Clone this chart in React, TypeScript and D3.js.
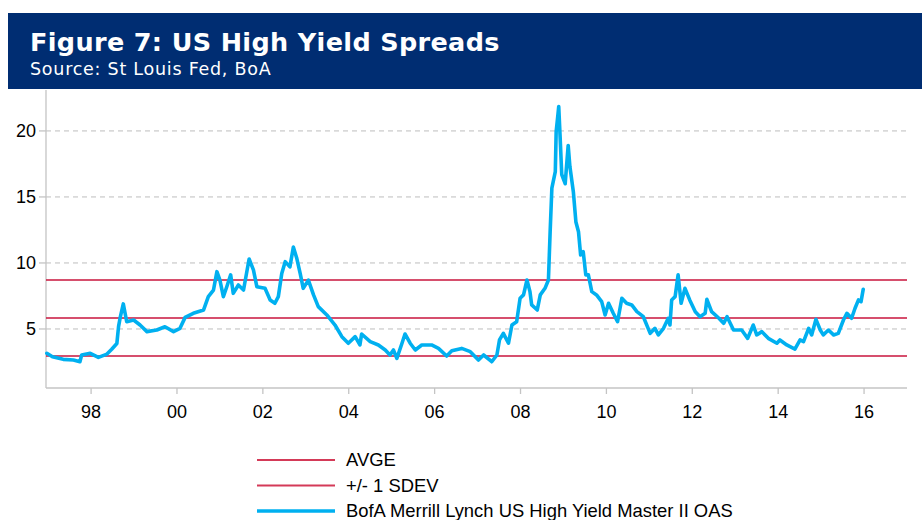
import React from "react";
import * as d3 from "d3";

const title = "Figure 7: US High Yield Spreads";
const subtitle = "Source: St Louis Fed, BoA";

// decimal year, OAS spread (%)
const dates = [
  1996.97, 1997.1, 1997.35, 1997.59, 1997.74, 1997.78, 1997.98, 1998.17, 1998.37, 1998.48,
  1998.6, 1998.64, 1998.68, 1998.75, 1998.83, 1998.99, 1999.14, 1999.3, 1999.53, 1999.72,
  1999.92, 2000.07, 2000.19, 2000.38, 2000.62, 2000.73, 2000.85, 2000.93, 2001.0, 2001.08,
  2001.16, 2001.25, 2001.31, 2001.43, 2001.55, 2001.68, 2001.78, 2001.86, 2002.05, 2002.17,
  2002.28, 2002.36, 2002.44, 2002.52, 2002.63, 2002.71, 2002.79, 2002.87, 2002.94, 2003.06,
  2003.18, 2003.29, 2003.49, 2003.68, 2003.84, 2003.99, 2004.15, 2004.26, 2004.3, 2004.5,
  2004.69, 2004.85, 2004.96, 2005.04, 2005.12, 2005.24, 2005.31, 2005.43, 2005.55, 2005.7,
  2005.93, 2006.09, 2006.28, 2006.4, 2006.63, 2006.83, 2007.02, 2007.14, 2007.33, 2007.45,
  2007.51, 2007.6, 2007.72, 2007.8, 2007.91, 2007.99, 2008.07, 2008.15, 2008.22, 2008.26,
  2008.39, 2008.46, 2008.57, 2008.65, 2008.69, 2008.73, 2008.81, 2008.83, 2008.87, 2008.89,
  2008.92, 2008.96, 2009.04, 2009.11, 2009.15, 2009.23, 2009.29, 2009.35, 2009.4, 2009.46,
  2009.52, 2009.58, 2009.66, 2009.77, 2009.89, 2009.97, 2010.05, 2010.16, 2010.26, 2010.36,
  2010.47, 2010.59, 2010.71, 2010.86, 2011.02, 2011.13, 2011.21, 2011.33, 2011.44, 2011.48,
  2011.52, 2011.6, 2011.67, 2011.74, 2011.83, 2011.94, 2012.07, 2012.18, 2012.3, 2012.34,
  2012.45, 2012.62, 2012.73, 2012.81, 2012.96, 2013.15, 2013.29, 2013.42, 2013.5, 2013.62,
  2013.77, 2013.97, 2014.04, 2014.2, 2014.39, 2014.51, 2014.59, 2014.71, 2014.78, 2014.88,
  2014.98, 2015.05, 2015.17, 2015.29, 2015.4, 2015.52, 2015.6, 2015.71, 2015.79, 2015.87,
  2015.93, 2015.98,
];
const spreads = [
  3.16, 2.9, 2.7, 2.65, 2.52, 3.03, 3.16, 2.85, 3.1, 3.46,
  3.9, 5.2, 5.9, 6.9, 5.55, 5.68, 5.3, 4.8, 4.92, 5.17,
  4.8, 5.05, 5.88, 6.19, 6.44, 7.45, 7.95, 9.34, 8.7, 7.45,
  8.2, 9.1, 7.7, 8.33, 7.95, 10.3, 9.47, 8.2, 8.08, 7.2,
  6.95, 7.45, 9.2, 10.1, 9.7, 11.2, 10.35, 9.2, 8.08, 8.7,
  7.58, 6.69, 6.06, 5.3, 4.42, 3.92, 4.42, 3.79, 4.62, 4.04,
  3.79, 3.41, 3.03, 3.41, 2.78, 3.92, 4.62, 3.92, 3.41, 3.79,
  3.79, 3.53, 2.95, 3.35, 3.53, 3.28, 2.65, 3.03, 2.52, 3.03,
  4.17, 4.67, 3.92, 5.3, 5.55, 7.33, 7.58, 8.71, 7.83, 6.82,
  6.44, 7.58, 8.08, 8.71, 12.37, 15.66, 16.92, 19.95, 21.2, 21.85,
  19.7, 16.7, 16.0, 18.9, 17.3, 15.4, 13.1, 12.37, 10.6, 10.86,
  9.1, 9.1, 7.83, 7.58, 7.07, 6.06, 6.95, 6.19, 5.55, 7.33,
  6.95, 6.82, 6.31, 5.93, 4.67, 5.05, 4.55, 5.05, 5.81, 5.3,
  7.2, 7.45, 9.1, 6.95, 8.08, 7.2, 6.31, 5.93, 6.19, 7.25,
  6.31, 5.81, 5.43, 5.93, 4.92, 4.92, 4.29, 5.3, 4.55, 4.8,
  4.29, 3.92, 4.17, 3.79, 3.48, 4.17, 4.04, 5.05, 4.55, 5.73,
  4.92, 4.55, 4.92, 4.55, 4.67, 5.68, 6.19, 5.81, 6.57, 7.2,
  7.07, 8.0,
];

const average = 5.83;
const stdev = 2.88;
const refLevels = [average + stdev, average, average - stdev];

const yTicks = [5, 10, 15, 20];
const xTicks = [1998, 2000, 2002, 2004, 2006, 2008, 2010, 2012, 2014, 2016];
const xTickLabels = ["98", "00", "02", "04", "06", "08", "10", "12", "14", "16"];

const legendItems = [
  { label: "AVGE", kind: "avg" },
  { label: "+/- 1 SDEV", kind: "sd" },
  { label: "BofA Merrill Lynch US High Yield Master II OAS", kind: "oas" },
];

const W = 922;
const H = 520;
const plot = { left: 46, right: 907, top: 90, bottom: 388 };
const BLUE = "#00b0f0";
const RED = "#c8143c";
const AXIS = "#c4c4c4";

export default function App() {
  const x = d3.scaleLinear().domain([1996.95, 2017.0]).range([plot.left, plot.right]);
  const y = d3.scaleLinear().domain([0.53, 23.1]).range([plot.bottom, plot.top]);

  const pts: [number, number][] = dates.map((d, i) => [d, spreads[i]]);
  const line = d3
    .line<[number, number]>()
    .x((d) => x(d[0]))
    .y((d) => y(d[1]));

  const font = "'Liberation Sans', Arial, sans-serif";

  return (
    <svg
      width={W}
      height={H}
      style={{ position: "absolute", left: 0, top: 0, background: "#fff" }}
    >
      <rect x={0} y={0} width={W} height={H} fill="#fff" />
      {/* header */}
      <rect x={8} y={13} width={W - 8} height={76} fill="#002d72" />
      <text
        x={30}
        y={51}
        fill="#fff"
        fontFamily="'DejaVu Sans', Verdana, sans-serif"
        fontWeight="bold"
        fontSize={25.5}
        letterSpacing={0.35}
      >
        {title}
      </text>
      <text
        x={30}
        y={75}
        fill="#fff"
        fontFamily="'DejaVu Sans', Verdana, sans-serif"
        fontSize={17.5}
        letterSpacing={0.75}
      >
        {subtitle}
      </text>

      {/* gridlines */}
      {yTicks.map((t) => (
        <line
          key={"g" + t}
          x1={plot.left}
          x2={plot.right}
          y1={y(t)}
          y2={y(t)}
          stroke="#bdbdbd"
          strokeWidth={1}
          strokeDasharray="5,4"
        />
      ))}

      {/* axes */}
      <line x1={plot.left} x2={plot.left} y1={plot.top} y2={plot.bottom} stroke={AXIS} strokeWidth={1.3} />
      <line x1={plot.left} x2={plot.right} y1={plot.bottom} y2={plot.bottom} stroke={AXIS} strokeWidth={1.3} />
      {yTicks.map((t) => (
        <g key={"yt" + t}>
          <line x1={plot.left - 7} x2={plot.left} y1={y(t)} y2={y(t)} stroke={AXIS} strokeWidth={1.3} />
          <text
            x={36}
            y={y(t)}
            dy="0.35em"
            textAnchor="end"
            fontFamily={font}
            fontSize={18}
            fill="#000"
          >
            {t}
          </text>
        </g>
      ))}
      {xTicks.map((t, i) => (
        <g key={"xt" + t}>
          <line x1={x(t)} x2={x(t)} y1={plot.bottom} y2={plot.bottom + 6} stroke={AXIS} strokeWidth={1.3} />
          <text
            x={x(t)}
            y={418}
            textAnchor="middle"
            fontFamily={font}
            fontSize={18}
            fill="#000"
          >
            {xTickLabels[i]}
          </text>
        </g>
      ))}

      {/* reference lines */}
      {refLevels.map((v, i) => (
        <line
          key={"r" + i}
          x1={plot.left}
          x2={plot.right}
          y1={y(v)}
          y2={y(v)}
          stroke={RED}
          strokeWidth={1.6}
        />
      ))}

      {/* series */}
      <path
        d={line(pts) || ""}
        fill="none"
        stroke={BLUE}
        strokeWidth={3.6}
        strokeLinejoin="round"
        strokeLinecap="round"
      />

      {/* legend */}
      {legendItems.map((it, i) => {
        const ly = 460 + i * 25.5;
        return (
          <g key={it.label}>
            <line
              x1={257}
              x2={335}
              y1={ly}
              y2={ly}
              stroke={it.kind === "oas" ? BLUE : "#d43a58"}
              strokeWidth={it.kind === "oas" ? 3.6 : 2}
            />
            <text x={346} y={ly + 6} fontFamily={font} fontSize={18.4} fill="#000">
              {it.label}
            </text>
          </g>
        );
      })}
    </svg>
  );
}
